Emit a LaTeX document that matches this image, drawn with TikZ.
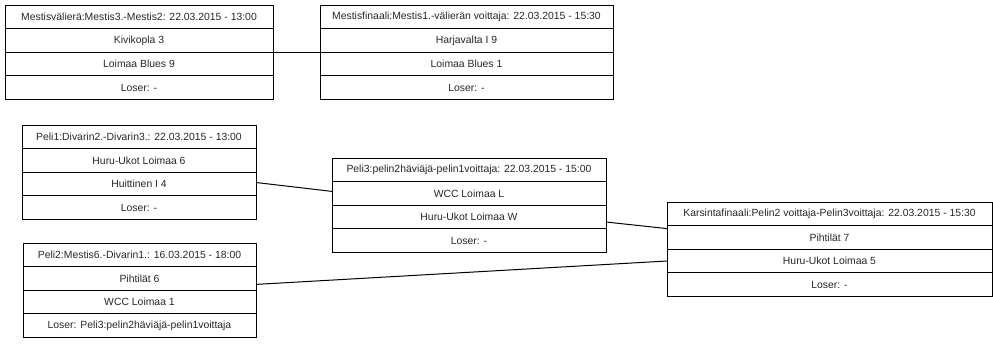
\documentclass[tikz,border=0pt]{standalone}
\usepackage{fontspec}
\setmainfont{Liberation Sans}
\tikzset{
  rowbox/.style={draw=black, line width=1pt, inner sep=0pt, outer sep=0pt, anchor=north west,
    minimum height=23.6pt, font=\fontsize{10.4}{12}\selectfont, text=black!85},
  conn/.style={draw=black, line width=1pt}
}
\newcommand\gamebox[8]{%
  \node[rowbox, minimum width=#4pt] (#1-1) at (#2,#3) {#5};
  \node[rowbox, minimum width=#4pt] (#1-2) at (#1-1.south west) {#6};
  \node[rowbox, minimum width=#4pt] (#1-3) at (#1-2.south west) {#7};
  \node[rowbox, minimum width=#4pt] (#1-4) at (#1-3.south west) {#8};
}
\begin{document}
\begin{tikzpicture}[x=1pt, y=-1pt]
\useasboundingbox (0,0) rectangle (993,343);
\gamebox{m1}{5}{5}{268}{Mestisvälierä:Mestis3.-Mestis2: 22.03.2015 - 13:00}{Kivikopla 3}{Loimaa Blues 9}{Loser: -}
\gamebox{m2}{320}{5}{293}{Mestisfinaali:Mestis1.-välierän voittaja: 22.03.2015 - 15:30}{Harjavalta I 9}{Loimaa Blues 1}{Loser: -}
\gamebox{p1}{22}{125}{234}{Peli1:Divarin2.-Divarin3.: 22.03.2015 - 13:00}{Huru-Ukot Loimaa 6}{Huittinen I 4}{Loser: -}
\gamebox{p3}{332}{158}{274}{Peli3:pelin2häviäjä-pelin1voittaja: 22.03.2015 - 15:00}{WCC Loimaa L}{Huru-Ukot Loimaa W}{Loser: -}
\gamebox{p2}{23}{243}{233}{Peli2:Mestis6.-Divarin1.: 16.03.2015 - 18:00}{Pihtilät 6}{WCC Loimaa 1}{Loser: Peli3:pelin2häviäjä-pelin1voittaja}
\gamebox{k}{667}{202}{325}{Karsintafinaali:Pelin2 voittaja-Pelin3voittaja: 22.03.2015 - 15:30}{Pihtilät 7}{Huru-Ukot Loimaa 5}{Loser: -}
\draw[conn] (m1-2.south east) -- (m2-2.south west);
\draw[conn] ([yshift=1.5pt]p1-3.east) -- ([yshift=2pt]p3-2.west);
\draw[conn] ([yshift=-5pt]p3-3.east) -- ([yshift=-3pt]k-1.south west);
\draw[conn] ([yshift=-6pt]p2-2.east) -- (k-3.west);
\end{tikzpicture}
\end{document}
